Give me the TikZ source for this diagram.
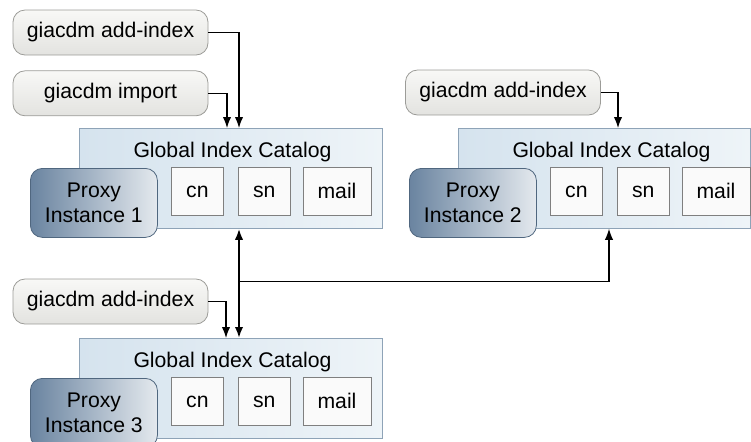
\documentclass[tikz,border=0pt]{standalone}
\usepackage{fontspec}
\setmainfont{Liberation Sans}
\usetikzlibrary{arrows.meta,calc,positioning}

\definecolor{catleft}{HTML}{D5E3EE}
\definecolor{catright}{HTML}{EEF4F8}
\definecolor{catline}{HTML}{8EA3B7}
\definecolor{pxdark}{HTML}{6A84A0}
\definecolor{pxlight}{HTML}{E4E9EE}
\definecolor{pxline}{HTML}{50677F}
\definecolor{cmdtop}{HTML}{F8F8F6}
\definecolor{cmdbot}{HTML}{E3E3E0}
\definecolor{cmdline}{HTML}{9C9C98}
\definecolor{fldline}{HTML}{7F7F7F}

\begin{document}
\begin{tikzpicture}[
    x=0.5pt, y=-0.5pt,
    every node/.style={font=\fontsize{10.6}{12.5}\selectfont, text=black},
    catalog/.style={draw=catline, left color=catleft, right color=catright,
                    minimum height=50pt, inner sep=0pt, anchor=north west},
    proxy/.style={draw=pxline, rounded corners=6pt, left color=pxdark, right color=pxlight,
                  minimum width=63.5pt, minimum height=34.5pt, align=center,
                  inner sep=0pt, anchor=north west},
    field/.style={draw=fldline, fill=black!2, minimum width=26pt,
                  minimum height=24pt, inner sep=0pt},
    cmd/.style={draw=cmdline, rounded corners=6pt, top color=cmdtop, bottom color=cmdbot,
                minimum width=97.5pt, minimum height=22.5pt, inner sep=0pt},
    link/.style={line width=0.6pt, -{Latex[length=5.5pt,width=4.2pt]}},
    bus/.style={line width=1pt, {Latex[length=5.5pt,width=4.2pt]}-{Latex[length=5.5pt,width=4.2pt]}}
]
\clip (0,0) rectangle (751,441);

% catalogs with their index fields
\foreach \i/\cx/\cy/\w in {1/79/128/151.5, 2/458/128/146, 3/79/338/151.5} {
  \node[catalog, minimum width=\w pt] (cat\i) at (\cx,\cy) {};
  \node[anchor=base] (title\i) at ([xshift=76.75pt,yshift=-14.5pt]cat\i.north west) {Global Index Catalog};
  \node[field, anchor=north west] (cn\i) at ([xshift=46pt,yshift=-19.5pt]cat\i.north west) {cn};
  \node[field, right=7pt of cn\i] (sn\i) {sn};
  \node[field, minimum width=34pt, right=6pt of sn\i] (mail\i) {mail};
  \node[proxy] (px\i) at ([xshift=-24.5pt,yshift=-20pt]cat\i.north west) {Proxy\\Instance \i};
}

\node[cmd] (add1) at (110.5,32.5) {giacdm add-index};
\node[cmd, below=7.5pt of add1] (imp) {giacdm import};
\node[cmd] (add2) at (503,92.5) {giacdm add-index};
\node[cmd] (add3) at (110.5,301.5) {giacdm add-index};

\draw[link] (add1.east) -| ([xshift=80pt]cat1.north west);
\draw[link] (imp.east)  -| ([xshift=74pt]cat1.north west);
\draw[link] (add2.east) -| ([xshift=80pt]cat2.north west);
\draw[link] (add3.east) -| ([xshift=73.5pt]cat3.north west);

% replication between the proxies
\draw[bus] ([xshift=80pt]cat1.south west) -- ([xshift=80pt]cat3.north west);
\coordinate (jn) at ($([xshift=80pt]cat1.south west)!0.48!([xshift=80pt]cat3.north west)$);
\draw[link] (jn) -| ([xshift=75.5pt]cat2.south west);
\end{tikzpicture}
\end{document}
